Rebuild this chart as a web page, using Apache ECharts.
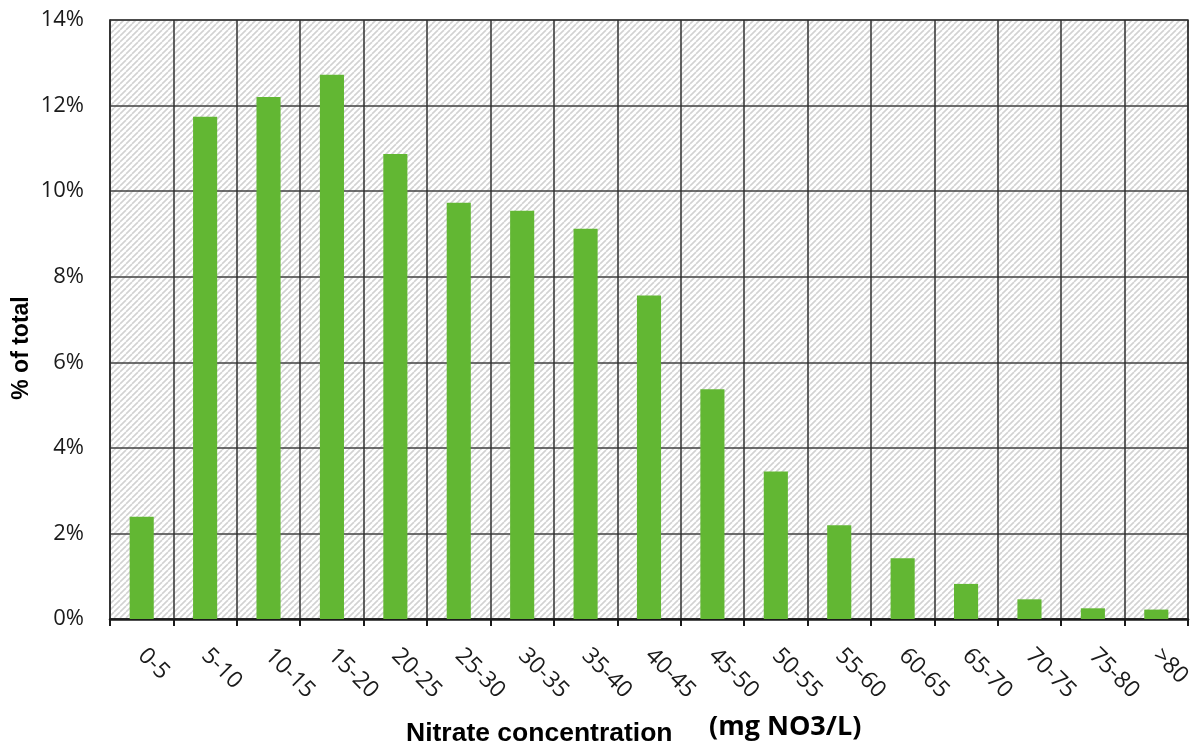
<!DOCTYPE html>
<html>
<head>
<meta charset="utf-8">
<script src="https://cdn.jsdelivr.net/npm/echarts@6/dist/echarts.min.js"></script>
<style>html,body{margin:0;padding:0;background:#fff;}#c{width:1198px;height:747px;}</style>
</head>
<body>
<div id="c"></div>
<script>
const categories = ['0-5','5-10','10-15','15-20','20-25','25-30','30-35','35-40','40-45','45-50','50-55','55-60','60-65','65-70','70-75','75-80','>80'];
const percentValues = [2.39, 11.74, 12.20, 12.72, 10.87, 9.73, 9.54, 9.12, 7.56, 5.37, 3.45, 2.19, 1.42, 0.82, 0.46, 0.25, 0.22];
const yTicks = [0, 2, 4, 6, 8, 10, 12, 14];

const tile = document.createElement('canvas');
tile.width = 6; tile.height = 6;
const tc = tile.getContext('2d');
tc.fillStyle = '#ffffff';
tc.fillRect(0, 0, 6, 6);
tc.strokeStyle = '#d2d2d2';
tc.lineWidth = 1.6;
for (let k = -1; k <= 1; k++) {
  tc.beginPath();
  tc.moveTo(k * 6, 6);
  tc.lineTo(k * 6 + 6, 0);
  tc.stroke();
}

const chart = echarts.init(document.getElementById('c'));
chart.setOption({
  animation: false,
  grid: {
    left: 110, top: 20, right: 10, bottom: 128,
    show: true,
    backgroundColor: { image: tile, repeat: 'repeat' },
    borderColor: '#404040', borderWidth: 1.5
  },
  xAxis: {
    type: 'category',
    data: categories,
    boundaryGap: true,
    axisLine: { lineStyle: { color: '#1a1a1a', width: 2.5 } },
    axisTick: { show: true, length: 7, lineStyle: { color: '#1a1a1a', width: 2 } },
    splitLine: { show: true, lineStyle: { color: '#303030', width: 1.5 } },
    axisLabel: {
      interval: 0, rotate: -45, margin: 33,
      fontFamily: 'Open Sans', fontSize: 23, color: '#1a1a1a'
    }
  },
  yAxis: {
    type: 'value',
    min: yTicks[0], max: yTicks[yTicks.length - 1], interval: 2,
    axisLine: { show: true, lineStyle: { color: '#303030', width: 1.5 } },
    axisTick: { show: false },
    splitLine: { show: true, lineStyle: { color: '#404040', width: 1.5 } },
    axisLabel: {
      formatter: '{value}%', margin: 26,
      fontFamily: 'Open Sans', fontSize: 22, color: '#1a1a1a'
    }
  },
  series: [{
    type: 'bar',
    data: percentValues,
    barWidth: '38%',
    itemStyle: { color: '#62B733' }
  }],
  graphic: [
    {
      type: 'text', x: 22, y: 348, rotation: Math.PI / 2,
      style: { text: '% of total', font: 'bold 23px "Liberation Sans"', fill: '#000', textAlign: 'center', textVerticalAlign: 'middle' }
    },
    {
      type: 'text', x: 406, y: 734,
      style: { text: 'Nitrate concentration', font: 'bold 26.5px "Liberation Sans"', fill: '#000', textVerticalAlign: 'middle' }
    },
    {
      type: 'text', x: 709, y: 727,
      style: { text: '(mg NO3/L)', font: 'bold 27px "Open Sans"', fill: '#000', textVerticalAlign: 'middle' }
    }
  ]
});
</script>
</body>
</html>
